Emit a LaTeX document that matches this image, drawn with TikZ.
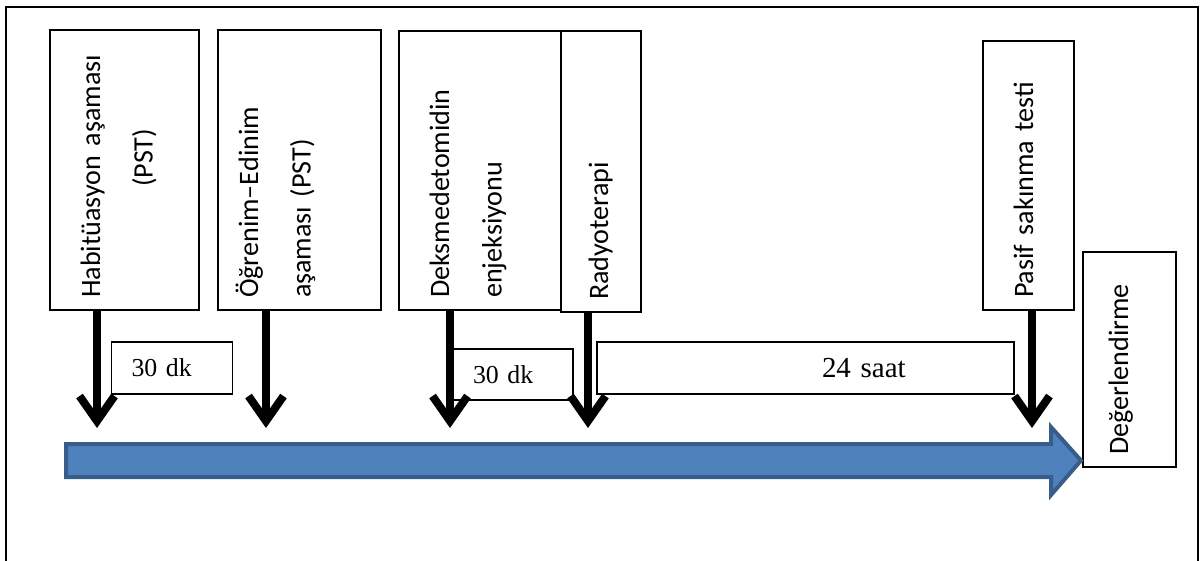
\documentclass[tikz,border=0pt]{standalone}
\usepackage{fontspec}
\usetikzlibrary{arrows.meta}
\newfontfamily\boxfont{Carlito}
\newfontfamily\durfont{Liberation Serif}
\definecolor{barfill}{RGB}{79,129,189}
\definecolor{bardraw}{RGB}{56,93,138}

\begin{document}
\begin{tikzpicture}[x=0.02cm, y=-0.02cm,
    phase/.style={draw, line width=0.7pt, fill=white, rotate=90, inner xsep=0.24cm, inner ysep=0pt, align=left, font=\boxfont\fontsize{16}{30}\selectfont},
    dur/.style={draw, line width=0.7pt, fill=white, inner xsep=0.4cm, inner ysep=0pt, minimum height=1.04cm, align=left, font=\durfont\fontsize{14.7}{17}\selectfont},
    arr/.style={line width=0.16cm, -{Straight Barb[length=0.5cm, width=0.7cm]}},
    timeline/.style={draw=bardraw, fill=barfill, line width=0.08cm, line join=miter},
]
\clip (0,0) rectangle (1201,561);
\draw[line width=0.04cm] (6,590) -- (6,6.7) -- (1197.5,6.7) -- (1197.5,590);

% phases
\node[phase, text width=5.12cm, text height=1cm, text depth=1.98cm] (habit) at (124.5,170) {Habitüasyon aşaması\\\hspace*{2.22cm}(PST)};
\node[phase, text width=5.12cm, text height=0.8cm, text depth=2.46cm] (ogren) at (299.5,170) {Öğrenim–Edinim\\aşaması (PST)};
\node[phase, text width=5.1cm, text height=1cm, text depth=2.24cm] (deks) at (480,170.5) {Deksmedetomidin\\enjeksiyonu};
\node[phase, text width=5.14cm, text height=0.94cm, text depth=0.66cm] (radyo) at (601,171.5) {Radyoterapi};
\node[phase, text width=4.9cm, text height=1cm, text depth=0.82cm] (pasif) at (1028.5,175.5) {Pasif sakınma testi};
\node[phase, text width=3.82cm, text height=0.9cm, text depth=0.96cm] (deger) at (1129.5,359.5) {Değerlendirme};

% durations
\node[dur, text width=1.62cm] (dk1) at (172,368) {30 dk};
\node[dur, text width=1.6cm, minimum height=1.02cm] (dk2) at (513,374.5) {30 dk};
\node[dur, text width=7.54cm, font=\durfont\fontsize{16.5}{19}\selectfont] (saat) at (805.5,368) {\hspace*{4.1cm}24 saat};

% time axis
\draw[timeline] (66,444) -- (1051,444) -- (1051,427) -- (1081,460.5) -- (1051,495) -- (1051,477) -- (66,477) -- cycle;

\coordinate (t1) at (97,428);
\coordinate (t2) at (266,428);
\coordinate (t3) at (450,428);
\coordinate (t4) at (588,428);
\coordinate (t5) at (1032,428);
\draw[arr] (habit.west -| t1) -- (t1);
\draw[arr] (ogren.west -| t2) -- (t2);
\draw[arr] (deks.west -| t3) -- (t3);
\draw[arr] (radyo.west -| t4) -- (t4);
\draw[arr] (pasif.west -| t5) -- (t5);
\end{tikzpicture}
\end{document}
